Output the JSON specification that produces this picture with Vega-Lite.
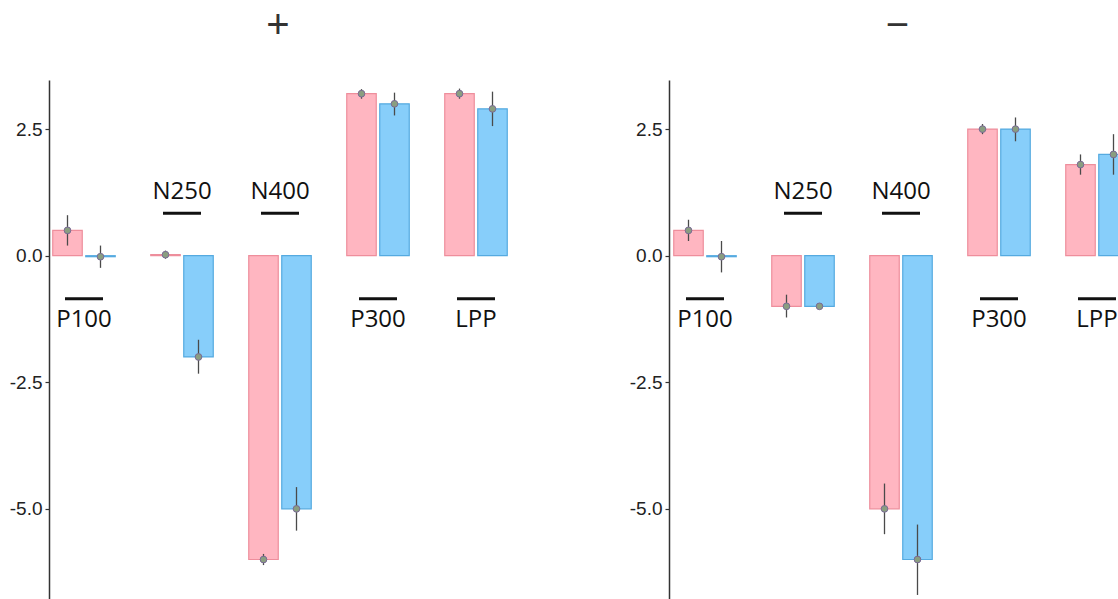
{
  "$schema": "https://vega.github.io/schema/vega-lite/v6.json",
  "padding": {"top": 6, "left": 9, "right": 0, "bottom": 0},
  "background": "white",
  "config": {
    "view": {"stroke": null},
    "axisY": {
      "domainColor": "#333", "domainWidth": 1.5, "tickColor": "#333", "tickWidth": 1.2, "tickSize": 4,
      "labelFont": "Liberation Sans", "labelFontSize": 19, "labelColor": "#222", "labelPadding": 3, "grid": false, "title": null
    },
    "title": {"font": "Liberation Sans", "fontSize": 40, "fontWeight": "normal", "color": "#333", "anchor": "middle"}
  },
  "datasets": {
    "vals": [
      {"panel": "+", "comp": "P100", "cond": "a", "value": 0.5, "lo": 0.2, "hi": 0.8},
      {"panel": "+", "comp": "P100", "cond": "b", "value": -0.02, "lo": -0.24, "hi": 0.2},
      {"panel": "+", "comp": "N250", "cond": "a", "value": 0.02, "lo": -0.06, "hi": 0.1},
      {"panel": "+", "comp": "N250", "cond": "b", "value": -2.0, "lo": -2.33, "hi": -1.66},
      {"panel": "+", "comp": "N400", "cond": "a", "value": -6.0, "lo": -6.11, "hi": -5.89},
      {"panel": "+", "comp": "N400", "cond": "b", "value": -5.0, "lo": -5.43, "hi": -4.57},
      {"panel": "+", "comp": "P300", "cond": "a", "value": 3.2, "lo": 3.1, "hi": 3.29},
      {"panel": "+", "comp": "P300", "cond": "b", "value": 3.0, "lo": 2.77, "hi": 3.22},
      {"panel": "+", "comp": "LPP", "cond": "a", "value": 3.2, "lo": 3.1, "hi": 3.3},
      {"panel": "+", "comp": "LPP", "cond": "b", "value": 2.9, "lo": 2.56, "hi": 3.24},
      {"panel": "−", "comp": "P100", "cond": "a", "value": 0.5, "lo": 0.29, "hi": 0.71},
      {"panel": "−", "comp": "P100", "cond": "b", "value": -0.02, "lo": -0.33, "hi": 0.29},
      {"panel": "−", "comp": "N250", "cond": "a", "value": -1.0, "lo": -1.22, "hi": -0.77},
      {"panel": "−", "comp": "N250", "cond": "b", "value": -1.0, "lo": -1.03, "hi": -0.97},
      {"panel": "−", "comp": "N400", "cond": "a", "value": -5.0, "lo": -5.5, "hi": -4.5},
      {"panel": "−", "comp": "N400", "cond": "b", "value": -6.0, "lo": -6.7, "hi": -5.31},
      {"panel": "−", "comp": "P300", "cond": "a", "value": 2.5, "lo": 2.4, "hi": 2.6},
      {"panel": "−", "comp": "P300", "cond": "b", "value": 2.5, "lo": 2.26, "hi": 2.73},
      {"panel": "−", "comp": "LPP", "cond": "a", "value": 1.8, "lo": 1.6, "hi": 2.0},
      {"panel": "−", "comp": "LPP", "cond": "b", "value": 2.0, "lo": 1.6, "hi": 2.4}
    ],
    "labels": [
      {"panel": "+", "comp": "P100", "pos": "below"},
      {"panel": "+", "comp": "N250", "pos": "above"},
      {"panel": "+", "comp": "N400", "pos": "above"},
      {"panel": "+", "comp": "P300", "pos": "below"},
      {"panel": "+", "comp": "LPP", "pos": "below"},
      {"panel": "−", "comp": "P100", "pos": "below"},
      {"panel": "−", "comp": "N250", "pos": "above"},
      {"panel": "−", "comp": "N400", "pos": "above"},
      {"panel": "−", "comp": "P300", "pos": "below"},
      {"panel": "−", "comp": "LPP", "pos": "below"}
    ]
  },
  "spacing": 121,
  "hconcat": [
    {
      "title": {"text": "+", "offset": 34},
      "width": 458,
      "height": 519,
      "layer": [
        {
          "data": {"name": "vals"},
          "transform": [{"filter": "datum.panel == '+'"}],
          "mark": {"type": "bar", "strokeWidth": 1.2},
          "encoding": {
            "x": {"field": "comp", "type": "nominal", "sort": ["P100", "N250", "N400", "P300", "LPP"], "scale": {"range": [-14, 476], "paddingInner": 0, "paddingOuter": 0}, "axis": null},
            "xOffset": {"field": "cond", "type": "nominal", "scale": {"paddingInner": 0.106, "paddingOuter": 0.538}},
            "y": {"field": "value", "type": "quantitative", "scale": {"domain": [-6.78, 3.47], "nice": false, "zero": false}, "axis": {"values": [-5, -2.5, 0, 2.5], "labelExpr": "datum.value < 0 ? '-' + format(-datum.value, '.1f') : format(datum.value, '.1f')"}},
            "fill": {"field": "cond", "type": "nominal", "scale": {"domain": ["a", "b"], "range": ["#FFB6C1", "#87CEFA"]}, "legend": null},
            "stroke": {"field": "cond", "type": "nominal", "scale": {"domain": ["a", "b"], "range": ["#EE8E9C", "#55AAE0"]}, "legend": null}
          }
        },
        {
          "data": {"name": "vals"},
          "transform": [{"filter": "datum.panel == '+'"}],
          "mark": {"type": "rule", "color": "#4a4a4a", "strokeWidth": 1.3},
          "encoding": {
            "x": {"field": "comp", "type": "nominal", "sort": ["P100", "N250", "N400", "P300", "LPP"]},
            "xOffset": {"field": "cond", "type": "nominal"},
            "y": {"field": "lo", "type": "quantitative"},
            "y2": {"field": "hi"}
          }
        },
        {
          "data": {"name": "vals"},
          "transform": [{"filter": "datum.panel == '+'"}],
          "mark": {"type": "point", "filled": true, "size": 45, "fill": "#8A9E80", "stroke": "#7A6A96", "strokeWidth": 1, "opacity": 1},
          "encoding": {
            "x": {"field": "comp", "type": "nominal", "sort": ["P100", "N250", "N400", "P300", "LPP"]},
            "xOffset": {"field": "cond", "type": "nominal"},
            "y": {"field": "value", "type": "quantitative"}
          }
        },
        {
          "data": {"name": "labels"},
          "transform": [{"filter": "datum.panel == '+' && datum.pos == 'above'"}],
          "mark": {"type": "tick", "orient": "horizontal", "size": 38, "thickness": 3, "color": "#111", "opacity": 1},
          "encoding": {
            "x": {"field": "comp", "type": "nominal", "sort": ["P100", "N250", "N400", "P300", "LPP"]},
            "y": {"datum": 0.84, "type": "quantitative"}
          }
        },
        {
          "data": {"name": "labels"},
          "transform": [{"filter": "datum.panel == '+' && datum.pos == 'above'"}],
          "mark": {"type": "text", "font": "Open Sans", "fontSize": 24, "color": "#111", "baseline": "middle"},
          "encoding": {
            "x": {"field": "comp", "type": "nominal", "sort": ["P100", "N250", "N400", "P300", "LPP"]},
            "y": {"datum": 1.26, "type": "quantitative"},
            "text": {"field": "comp"}
          }
        },
        {
          "data": {"name": "labels"},
          "transform": [{"filter": "datum.panel == '+' && datum.pos == 'below'"}],
          "mark": {"type": "tick", "orient": "horizontal", "size": 38, "thickness": 3, "color": "#111", "opacity": 1},
          "encoding": {
            "x": {"field": "comp", "type": "nominal", "sort": ["P100", "N250", "N400", "P300", "LPP"]},
            "y": {"datum": -0.85, "type": "quantitative"}
          }
        },
        {
          "data": {"name": "labels"},
          "transform": [{"filter": "datum.panel == '+' && datum.pos == 'below'"}],
          "mark": {"type": "text", "font": "Open Sans", "fontSize": 24, "color": "#111", "baseline": "middle"},
          "encoding": {
            "x": {"field": "comp", "type": "nominal", "sort": ["P100", "N250", "N400", "P300", "LPP"]},
            "y": {"datum": -1.27, "type": "quantitative"},
            "text": {"field": "comp"}
          }
        }
      ]
    },
    {
      "title": {"text": "−", "offset": 34, "dx": 4},
      "width": 449,
      "height": 519,
      "layer": [
        {
          "data": {"name": "vals"},
          "transform": [{"filter": "datum.panel == '−'"}],
          "mark": {"type": "bar", "strokeWidth": 1.2, "clip": true},
          "encoding": {
            "x": {"field": "comp", "type": "nominal", "sort": ["P100", "N250", "N400", "P300", "LPP"], "scale": {"range": [-13, 477], "paddingInner": 0, "paddingOuter": 0}, "axis": null},
            "xOffset": {"field": "cond", "type": "nominal", "scale": {"paddingInner": 0.106, "paddingOuter": 0.538}},
            "y": {"field": "value", "type": "quantitative", "scale": {"domain": [-6.78, 3.47], "nice": false, "zero": false}, "axis": {"values": [-5, -2.5, 0, 2.5], "labelExpr": "datum.value < 0 ? '-' + format(-datum.value, '.1f') : format(datum.value, '.1f')"}},
            "fill": {"field": "cond", "type": "nominal", "scale": {"domain": ["a", "b"], "range": ["#FFB6C1", "#87CEFA"]}, "legend": null},
            "stroke": {"field": "cond", "type": "nominal", "scale": {"domain": ["a", "b"], "range": ["#EE8E9C", "#55AAE0"]}, "legend": null}
          }
        },
        {
          "data": {"name": "vals"},
          "transform": [{"filter": "datum.panel == '−'"}],
          "mark": {"type": "rule", "color": "#4a4a4a", "strokeWidth": 1.3, "clip": true},
          "encoding": {
            "x": {"field": "comp", "type": "nominal", "sort": ["P100", "N250", "N400", "P300", "LPP"]},
            "xOffset": {"field": "cond", "type": "nominal"},
            "y": {"field": "lo", "type": "quantitative"},
            "y2": {"field": "hi"}
          }
        },
        {
          "data": {"name": "vals"},
          "transform": [{"filter": "datum.panel == '−'"}],
          "mark": {"type": "point", "filled": true, "size": 45, "fill": "#8A9E80", "stroke": "#7A6A96", "strokeWidth": 1, "opacity": 1, "clip": true},
          "encoding": {
            "x": {"field": "comp", "type": "nominal", "sort": ["P100", "N250", "N400", "P300", "LPP"]},
            "xOffset": {"field": "cond", "type": "nominal"},
            "y": {"field": "value", "type": "quantitative"}
          }
        },
        {
          "data": {"name": "labels"},
          "transform": [{"filter": "datum.panel == '−' && datum.pos == 'above'"}],
          "mark": {"type": "tick", "orient": "horizontal", "size": 38, "thickness": 3, "color": "#111", "opacity": 1, "clip": true},
          "encoding": {
            "x": {"field": "comp", "type": "nominal", "sort": ["P100", "N250", "N400", "P300", "LPP"]},
            "y": {"datum": 0.84, "type": "quantitative"}
          }
        },
        {
          "data": {"name": "labels"},
          "transform": [{"filter": "datum.panel == '−' && datum.pos == 'above'"}],
          "mark": {"type": "text", "font": "Open Sans", "fontSize": 24, "color": "#111", "baseline": "middle", "clip": true},
          "encoding": {
            "x": {"field": "comp", "type": "nominal", "sort": ["P100", "N250", "N400", "P300", "LPP"]},
            "y": {"datum": 1.26, "type": "quantitative"},
            "text": {"field": "comp"}
          }
        },
        {
          "data": {"name": "labels"},
          "transform": [{"filter": "datum.panel == '−' && datum.pos == 'below'"}],
          "mark": {"type": "tick", "orient": "horizontal", "size": 38, "thickness": 3, "color": "#111", "opacity": 1, "clip": true},
          "encoding": {
            "x": {"field": "comp", "type": "nominal", "sort": ["P100", "N250", "N400", "P300", "LPP"]},
            "y": {"datum": -0.85, "type": "quantitative"}
          }
        },
        {
          "data": {"name": "labels"},
          "transform": [{"filter": "datum.panel == '−' && datum.pos == 'below'"}],
          "mark": {"type": "text", "font": "Open Sans", "fontSize": 24, "color": "#111", "baseline": "middle", "clip": true},
          "encoding": {
            "x": {"field": "comp", "type": "nominal", "sort": ["P100", "N250", "N400", "P300", "LPP"]},
            "y": {"datum": -1.27, "type": "quantitative"},
            "text": {"field": "comp"}
          }
        }
      ]
    }
  ]
}
